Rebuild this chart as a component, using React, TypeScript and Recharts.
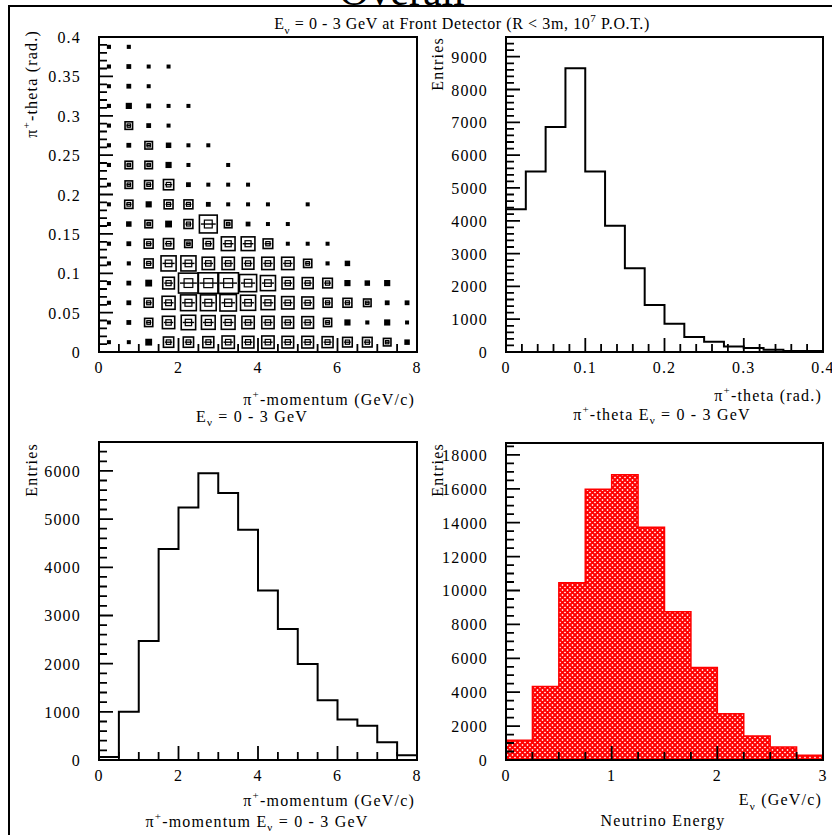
import React from "react";
import { ComposedChart, ScatterChart, Scatter, Line, Area, XAxis, YAxis } from "recharts";

const FONT = "'Liberation Serif', 'DejaVu Serif', serif";

// 2D box plot: pi+ theta vs momentum (box side)
const MOM_CENTERS = [0.25, 0.75, 1.25, 1.75, 2.25, 2.75, 3.25, 3.75, 4.25, 4.75, 5.25, 5.75, 6.25, 6.75, 7.25, 7.75];
const THETA_CENTERS = [0.0125, 0.0375, 0.0625, 0.0875, 0.1125, 0.1375, 0.1625, 0.1875, 0.2125, 0.2375, 0.2625, 0.2875, 0.3125, 0.3375, 0.3625, 0.3875];
const BOX_ROWS = [
  [8, 10, 20, 30, 30, 32, 36, 34, 36, 34, 34, 32, 28, 28, 22, 16],
  [8, 14, 24, 36, 42, 40, 40, 36, 36, 34, 34, 24, 18, 12, 18, 6],
  [12, 14, 26, 38, 46, 46, 48, 44, 40, 36, 34, 26, 26, 22, 14, 14],
  [12, 14, 20, 34, 58, 60, 60, 50, 44, 34, 32, 28, 18, 16, 18, 0],
  [12, 12, 26, 44, 44, 36, 36, 34, 36, 36, 24, 12, 16, 0, 0, 0],
  [12, 14, 26, 30, 22, 30, 40, 40, 28, 10, 10, 6, 0, 0, 0, 0],
  [10, 16, 22, 20, 26, 52, 22, 14, 10, 10, 0, 0, 0, 0, 0, 0],
  [10, 24, 18, 26, 26, 14, 10, 10, 6, 0, 10, 0, 0, 0, 0, 0],
  [10, 22, 24, 30, 14, 8, 8, 8, 0, 0, 0, 0, 0, 0, 0, 0],
  [12, 22, 22, 18, 8, 0, 4, 0, 0, 0, 0, 0, 0, 0, 0, 0],
  [12, 14, 22, 16, 8, 6, 0, 0, 0, 0, 0, 0, 0, 0, 0, 0],
  [12, 22, 14, 8, 0, 0, 0, 0, 0, 0, 0, 0, 0, 0, 0, 0],
  [12, 18, 14, 10, 8, 0, 0, 0, 0, 0, 0, 0, 0, 0, 0, 0],
  [10, 14, 8, 0, 0, 0, 0, 0, 0, 0, 0, 0, 0, 0, 0, 0],
  [12, 14, 8, 4, 0, 0, 0, 0, 0, 0, 0, 0, 0, 0, 0, 0],
  [12, 12, 0, 0, 0, 0, 0, 0, 0, 0, 0, 0, 0, 0, 0, 0],
];
const BOX_FULL = 58;

// 1D histograms (bin edges + contents)
const THETA_EDGES = [0, 0.025, 0.05, 0.075, 0.1, 0.125, 0.15, 0.175, 0.2, 0.225, 0.25, 0.275, 0.3, 0.325, 0.35, 0.375, 0.4];
const THETA_COUNTS = [4350, 5500, 6860, 8650, 5500, 3850, 2550, 1430, 860, 460, 310, 170, 120, 70, 30, 30];

const MOM_EDGES = [0, 0.5, 1, 1.5, 2, 2.5, 3, 3.5, 4, 4.5, 5, 5.5, 6, 6.5, 7, 7.5, 8];
const MOM_COUNTS = [60, 1000, 2470, 4380, 5240, 5950, 5540, 4780, 3520, 2720, 1990, 1240, 840, 710, 370, 100];

const ENU_EDGES = [0, 0.25, 0.5, 0.75, 1, 1.25, 1.5, 1.75, 2, 2.25, 2.5, 2.75, 3];
const ENU_COUNTS = [1160, 4340, 10450, 15970, 16820, 13730, 8740, 5460, 2730, 1410, 770, 275];

// labelled (major) ticks
const MOM_MAJOR = [0, 2, 4, 6, 8];
const THETA2D_MAJOR = [0, 0.05, 0.1, 0.15, 0.2, 0.25, 0.3, 0.35, 0.4];
const THETA_MAJOR = [0, 0.1, 0.2, 0.3, 0.4];
const THETA_Y_MAJOR = [0, 1000, 2000, 3000, 4000, 5000, 6000, 7000, 8000, 9000];
const MOM_Y_MAJOR = [0, 1000, 2000, 3000, 4000, 5000, 6000];
const ENU_MAJOR = [0, 1, 2, 3];
const ENU_Y_MAJOR = [0, 2000, 4000, 6000, 8000, 10000, 12000, 14000, 16000, 18000];

const W = 832;
const H = 835;
const MINOR_LEN = 8;
const MAJOR_LEN = 14;

function steps(max: number, step: number) {
  const out: number[] = [];
  const n = Math.floor(max / step + 1e-6);
  for (let k = 0; k <= n; k++) out.push(Math.round(k * step * 1e6) / 1e6);
  return out;
}

function histData(edges: number[], counts: number[]) {
  return edges.map((x, i) => ({ x, y: counts[Math.min(i, counts.length - 1)] }));
}

const boxData = THETA_CENTERS.flatMap((y, r) =>
  MOM_CENTERS.map((x, c) => ({ x, y, v: BOX_ROWS[r][c] })).filter((d) => d.v > 0)
);

const isMajor = (v: number, majors: number[]) => majors.some((m) => Math.abs(m - v) < 1e-7);

// axis tick label only; the inward tick marks go in the overlay
function makeTick(side: "left" | "bottom", majors: number[]) {
  return (props: any) => {
    const { x, y, payload } = props;
    if (!isMajor(payload.value, majors)) return <g />;
    if (side === "bottom") {
      return (
        <text x={x} y={y + 21} textAnchor="middle" fontSize={16} letterSpacing={1.2} fontFamily={FONT} fill="#000">
          {String(payload.value)}
        </text>
      );
    }
    return (
      <text x={x - 18} y={y + 6} textAnchor="end" fontSize={16} letterSpacing={1.2} fontFamily={FONT} fill="#000">
        {String(payload.value)}
      </text>
    );
  };
}

type Panel = { left: number; top: number; w: number; h: number };
const P1: Panel = { left: 99, top: 37, w: 318, h: 315 };
const P2: Panel = { left: 506, top: 37, w: 317, h: 315 };
const P3: Panel = { left: 99, top: 442, w: 318, h: 318 };
const P4: Panel = { left: 506, top: 443, w: 317, h: 317 };

// axes are 1px thick, so the plot area lands exactly on the panel rect
const marginOf = (p: Panel) => ({
  left: p.left - 1,
  top: p.top,
  right: W - p.left - p.w,
  bottom: H - p.top - p.h - 1,
});

const CELL_PX = P1.w / MOM_CENTERS.length;

const BoxMark = (props: any) => {
  const { cx, cy, payload } = props;
  const s = Math.max(4, (payload.v / BOX_FULL) * CELL_PX);
  const x = cx - s / 2;
  const y = cy - s / 2;
  if (s < 7) return <rect x={x} y={y} width={s} height={s} fill="#000" />;
  const i = s * 0.28;
  return (
    <g>
      <rect x={x} y={y} width={s} height={s} fill="none" stroke="#000" strokeWidth={1.6} />
      <rect x={x + i} y={y + i} width={s - 2 * i} height={s - 2 * i} fill="none" stroke="#000" strokeWidth={1.2} />
      <line x1={x + 1.5} y1={cy} x2={x + s - 1.5} y2={cy} stroke="#000" strokeWidth={1.4} />
    </g>
  );
};

// PAW-style inward ticks along the bottom and left edges of a panel, as one path
function tickPath(p: Panel, xMax: number, xStep: number, xMajors: number[], yMax: number, yStep: number, yMajors: number[]) {
  const bottom = p.top + p.h;
  let d = "";
  for (const v of steps(xMax, xStep)) {
    const x = (p.left + (v / xMax) * p.w).toFixed(1);
    const len = isMajor(v, xMajors) ? MAJOR_LEN : MINOR_LEN;
    d += `M${x} ${bottom}V${bottom - len}`;
  }
  for (const v of steps(yMax, yStep)) {
    const y = (bottom - (v / yMax) * p.h).toFixed(1);
    const len = isMajor(v, yMajors) ? MAJOR_LEN : MINOR_LEN;
    d += `M${p.left} ${y}H${p.left + len}`;
  }
  return d;
}

const abs: React.CSSProperties = { position: "absolute", left: 0, top: 0 };

function Sup({ children }: { children: string }) {
  return (
    <tspan dy={-7} fontSize={11}>
      {children}
    </tspan>
  );
}

const xAxisProps = { type: "number" as const, dataKey: "x", interval: 0, height: 1, tickSize: 0, tickMargin: 0, axisLine: false, tickLine: false };
const yAxisProps = { type: "number" as const, interval: 0, width: 1, tickSize: 0, tickMargin: 0, axisLine: false, tickLine: false };

export default function App() {
  const ticks = [
    tickPath(P1, 8, 0.5, MOM_MAJOR, 0.4, 0.01, THETA2D_MAJOR),
    tickPath(P2, 0.4, 0.02, THETA_MAJOR, 9600, 200, THETA_Y_MAJOR),
    tickPath(P3, 8, 0.5, MOM_MAJOR, 6600, 200, MOM_Y_MAJOR),
    tickPath(P4, 3, 0.25, ENU_MAJOR, 18700, 500, ENU_Y_MAJOR),
  ];
  return (
    <div style={{ position: "absolute", left: 0, top: 0, width: W, height: H, overflow: "hidden", background: "#fff" }}>
      {/* 2D box plot */}
      <div style={abs}>
        <ScatterChart width={W} height={H} margin={marginOf(P1)}>
          <Scatter data={boxData} shape={BoxMark} isAnimationActive={false} />
          <XAxis {...xAxisProps} domain={[0, 8]} ticks={MOM_MAJOR} tick={makeTick("bottom", MOM_MAJOR)} />
          <YAxis {...yAxisProps} dataKey="y" domain={[0, 0.4]} ticks={THETA2D_MAJOR} tick={makeTick("left", THETA2D_MAJOR)} />
        </ScatterChart>
      </div>

      {/* theta histogram */}
      <div style={abs}>
        <ComposedChart width={W} height={H} margin={marginOf(P2)} data={histData(THETA_EDGES, THETA_COUNTS)}>
          <Line type="stepAfter" dataKey="y" stroke="#000" strokeWidth={2} dot={false} isAnimationActive={false} />
          <XAxis {...xAxisProps} domain={[0, 0.4]} ticks={THETA_MAJOR} tick={makeTick("bottom", THETA_MAJOR)} />
          <YAxis {...yAxisProps} domain={[0, 9600]} ticks={THETA_Y_MAJOR} tick={makeTick("left", THETA_Y_MAJOR)} />
        </ComposedChart>
      </div>

      {/* momentum histogram */}
      <div style={abs}>
        <ComposedChart width={W} height={H} margin={marginOf(P3)} data={histData(MOM_EDGES, MOM_COUNTS)}>
          <Line type="stepAfter" dataKey="y" stroke="#000" strokeWidth={2} dot={false} isAnimationActive={false} />
          <XAxis {...xAxisProps} domain={[0, 8]} ticks={MOM_MAJOR} tick={makeTick("bottom", MOM_MAJOR)} />
          <YAxis {...yAxisProps} domain={[0, 6600]} ticks={MOM_Y_MAJOR} tick={makeTick("left", MOM_Y_MAJOR)} />
        </ComposedChart>
      </div>

      {/* neutrino energy histogram */}
      <div style={abs}>
        <ComposedChart width={W} height={H} margin={marginOf(P4)} data={histData(ENU_EDGES, ENU_COUNTS)}>
          <defs>
            <pattern id="hatch" width={5} height={5} patternUnits="userSpaceOnUse">
              <rect width={5} height={5} fill="#fff" />
              <path d="M0,0 L5,5 M5,0 L0,5" stroke="#ff0000" strokeWidth={2} />
            </pattern>
          </defs>
          <Area type="stepAfter" dataKey="y" stroke="#ff0000" strokeWidth={1.5} fill="url(#hatch)" fillOpacity={1} dot={false} isAnimationActive={false} />
          <XAxis {...xAxisProps} domain={[0, 3]} ticks={ENU_MAJOR} tick={makeTick("bottom", ENU_MAJOR)} />
          <YAxis {...yAxisProps} domain={[0, 18700]} ticks={ENU_Y_MAJOR} tick={makeTick("left", ENU_Y_MAJOR)} />
        </ComposedChart>
      </div>

      {/* frames, tick marks and titles */}
      <svg width={W} height={H} style={{ ...abs, pointerEvents: "none" }} fontFamily={FONT}>
        <text x={402} y={5} textAnchor="middle" fontSize={42}>Overall</text>
        <rect x={9} y={6} width={W + 20} height={H + 20} fill="none" stroke="#000" strokeWidth={2} />

        {ticks.map((d, i) => (
          <path key={"t" + i} d={d} fill="none" stroke="#000" strokeWidth={1.8} />
        ))}

        {[P1, P2, P3, P4].map((p, i) => (
          <rect key={i} x={p.left} y={p.top} width={p.w} height={p.h} fill="none" stroke="#000" strokeWidth={2} />
        ))}

        <text x={462} y={29} textAnchor="middle" fontSize={16} letterSpacing={0.6}>
          E<tspan dy={5} fontSize={11}>ν</tspan>
          <tspan dy={-5}> = 0 - 3 GeV at Front Detector (R &lt; 3m,  10</tspan>
          <Sup>7</Sup>
          <tspan dy={7}> P.O.T.)</tspan>
        </text>

        {/* panel 1 */}
        <text transform="translate(37,30) rotate(-90)" textAnchor="end" fontSize={16} letterSpacing={1.2}>
          π<Sup>+</Sup><tspan dy={7}>-theta (rad.)</tspan>
        </text>
        <text x={415} y={405} textAnchor="end" fontSize={16} letterSpacing={1.2}>
          π<Sup>+</Sup><tspan dy={7}>-momentum (GeV/c)</tspan>
        </text>
        <text x={252} y={422} textAnchor="middle" fontSize={16} letterSpacing={1.2}>
          E<tspan dy={4} fontSize={11}>ν</tspan><tspan dy={-4}> = 0 - 3 GeV</tspan>
        </text>

        {/* panel 2 */}
        <text transform="translate(443,37) rotate(-90)" textAnchor="end" fontSize={16} letterSpacing={1.2}>Entries</text>
        <text x={822} y={401} textAnchor="end" fontSize={16} letterSpacing={1.2}>
          π<Sup>+</Sup><tspan dy={7}>-theta (rad.)</tspan>
        </text>
        <text x={662} y={420} textAnchor="middle" fontSize={16} letterSpacing={1.2}>
          π<Sup>+</Sup><tspan dy={7}>-theta   E</tspan><tspan dy={4} fontSize={11}>ν</tspan><tspan dy={-4}> = 0 - 3 GeV</tspan>
        </text>

        {/* panel 3 */}
        <text transform="translate(37,443) rotate(-90)" textAnchor="end" fontSize={16} letterSpacing={1.2}>Entries</text>
        <text x={415} y={806} textAnchor="end" fontSize={16} letterSpacing={1.2}>
          π<Sup>+</Sup><tspan dy={7}>-momentum (GeV/c)</tspan>
        </text>
        <text x={257} y={827} textAnchor="middle" fontSize={16} letterSpacing={1.2}>
          π<Sup>+</Sup><tspan dy={7}>-momentum   E</tspan><tspan dy={4} fontSize={11}>ν</tspan><tspan dy={-4}> = 0 - 3 GeV</tspan>
        </text>

        {/* panel 4 */}
        <text transform="translate(443,443) rotate(-90)" textAnchor="end" fontSize={16} letterSpacing={1.2}>Entries</text>
        <text x={822} y={805} textAnchor="end" fontSize={16} letterSpacing={1.2}>
          E<tspan dy={5} fontSize={11}>ν</tspan><tspan dy={-5}> (GeV/c)</tspan>
        </text>
        <text x={663} y={826} textAnchor="middle" fontSize={16} letterSpacing={1.2}>Neutrino Energy</text>
      </svg>
    </div>
  );
}
